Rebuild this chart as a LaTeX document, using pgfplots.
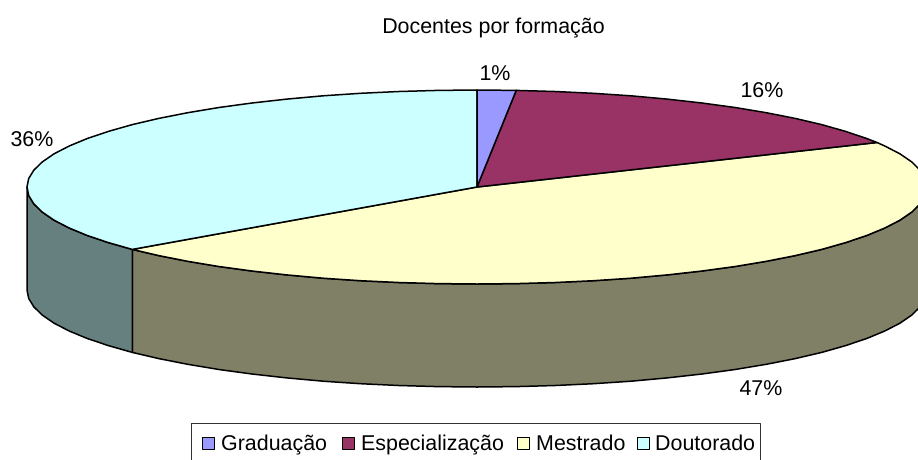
\documentclass[border=0pt]{standalone}
\usepackage{fontspec}
\setmainfont{Liberation Sans}
\usepackage{pgfplots}
\pgfplotsset{compat=1.18}
\definecolor{cG}{HTML}{9999FF}
\definecolor{cE}{HTML}{993366}
\definecolor{cM}{HTML}{FFFFCC}
\definecolor{cD}{HTML}{CCFFFF}
\definecolor{cMd}{HTML}{808066}
\definecolor{cDd}{HTML}{668080}
\begin{document}
\begin{tikzpicture}
\begin{axis}[
  scale only axis, width=918pt, height=459pt,
  xmin=0, xmax=918, ymin=0, ymax=459, y dir=reverse,
  hide axis, clip=true,
  every axis plot/.append style={draw=black, line width=1.5pt, line join=round, mark=none},
]
% side: Mestrado
\addplot[fill=cMd] coordinates {
(927,187)(925.3,195.5)(920.2,203.8)(911.7,212.1)(899.9,220.2)(884.8,228)(866.7,235.5)(845.6,242.6)(821.7,249.4)(795.2,255.6)(766.3,261.3)(735.1,266.5)(702,271)(667.2,274.9)(630.9,278.2)(593.5,280.7)(555.1,282.5)(516.2,283.6)(477,284)(437.8,283.6)(398.9,282.5)(360.5,280.7)(323.1,278.2)(286.8,274.9)(252,271)(218.9,266.5)(187.7,261.3)(158.8,255.6)(132.3,249.4)
(132.3,352.4)(158.8,358.6)(187.7,364.3)(218.9,369.5)(252,374)(286.8,377.9)(323.1,381.2)(360.5,383.7)(398.9,385.5)(437.8,386.6)(477,387)(516.2,386.6)(555.1,385.5)(593.5,383.7)(630.9,381.2)(667.2,377.9)(702,374)(735.1,369.5)(766.3,364.3)(795.2,358.6)(821.7,352.4)(845.6,345.6)(866.7,338.5)(884.8,331)(899.9,323.2)(911.7,315.1)(920.2,306.8)(925.3,298.5)(927,290)
} -- cycle;
% side: Doutorado
\addplot[fill=cDd] coordinates {
(132.3,249.4)(108.4,242.6)(87.3,235.5)(69.2,228)(54.1,220.2)(42.3,212.1)(33.8,203.8)(28.7,195.5)(27,187)
(27,290)(28.7,298.5)(33.8,306.8)(42.3,315.1)(54.1,323.2)(69.2,331)(87.3,338.5)(108.4,345.6)(132.3,352.4)
} -- cycle;
% top: Mestrado
\addplot[fill=cM] coordinates {
(477,187)(877,142.5)(884.8,146)(899.9,153.8)(911.7,161.9)(920.2,170.2)(925.3,178.5)(927,187)(925.3,195.5)(920.2,203.8)(911.7,212.1)(899.9,220.2)(884.8,228)(866.7,235.5)(845.6,242.6)(821.7,249.4)(795.2,255.6)(766.3,261.3)(735.1,266.5)(702,271)(667.2,274.9)(630.9,278.2)(593.5,280.7)(555.1,282.5)(516.2,283.6)(477,284)(437.8,283.6)(398.9,282.5)(360.5,280.7)(323.1,278.2)(286.8,274.9)(252,271)(218.9,266.5)(187.7,261.3)(158.8,255.6)(132.3,249.4)
} -- cycle;
% top: Doutorado
\addplot[fill=cD] coordinates {
(477,187)(132.3,249.4)(108.4,242.6)(87.3,235.5)(69.2,228)(54.1,220.2)(42.3,212.1)(33.8,203.8)(28.7,195.5)(27,187)(28.7,178.5)(33.8,170.2)(42.3,161.9)(54.1,153.8)(69.2,146)(87.3,138.5)(108.4,131.4)(132.3,124.6)(158.8,118.4)(187.7,112.7)(218.9,107.5)(252,103)(286.8,99.1)(323.1,95.8)(360.5,93.3)(398.9,91.5)(437.8,90.4)(477,90)
} -- cycle;
% top: Especializacao
\addplot[fill=cE] coordinates {
(477,187)(516.2,90.4)(555.1,91.5)(593.5,93.3)(630.9,95.8)(667.2,99.1)(702,103)(735.1,107.5)(766.3,112.7)(795.2,118.4)(821.7,124.6)(845.6,131.4)(866.7,138.5)(877,142.5)
} -- cycle;
% top: Graduacao
\addplot[fill=cG] coordinates {
(477,187)(477,90)(516.2,90.4)
} -- cycle;
% legend frame
\addplot[draw=black!80, line width=1pt, fill=none] coordinates {(191,462)(191,423)(760,423)(760,462)};
% legend swatches
\addplot[fill=cG, line width=1pt] coordinates {(202,437)(214,437)(214,449)(202,449)} -- cycle;
\addplot[fill=cE, line width=1pt] coordinates {(342,437)(354,437)(354,449)(342,449)} -- cycle;
\addplot[fill=cM, line width=1pt] coordinates {(517,437)(529,437)(529,449)(517,449)} -- cycle;
\addplot[fill=cD, line width=1pt] coordinates {(637,437)(649,437)(649,449)(637,449)} -- cycle;
\begin{scope}[every node/.style={inner sep=0pt, font=\fontsize{21.4}{25}\selectfont, text=black}]
\node[anchor=base] at (axis cs:493.5,33) {Docentes por formação};
\node[anchor=base] at (axis cs:495,80) {1\%};
\node[anchor=base] at (axis cs:762,97) {16\%};
\node[anchor=base] at (axis cs:32,146) {36\%};
\node[anchor=base] at (axis cs:761,395) {47\%};
\node[anchor=base west] at (axis cs:221,450) {Graduação};
\node[anchor=base west] at (axis cs:361,450) {Especialização};
\node[anchor=base west] at (axis cs:536,450) {Mestrado};
\node[anchor=base west] at (axis cs:655,450) {Doutorado};
\end{scope}
\end{axis}
\pgfresetboundingbox
\path (current axis.south west) rectangle (current axis.north east);
\end{tikzpicture}
\end{document}
